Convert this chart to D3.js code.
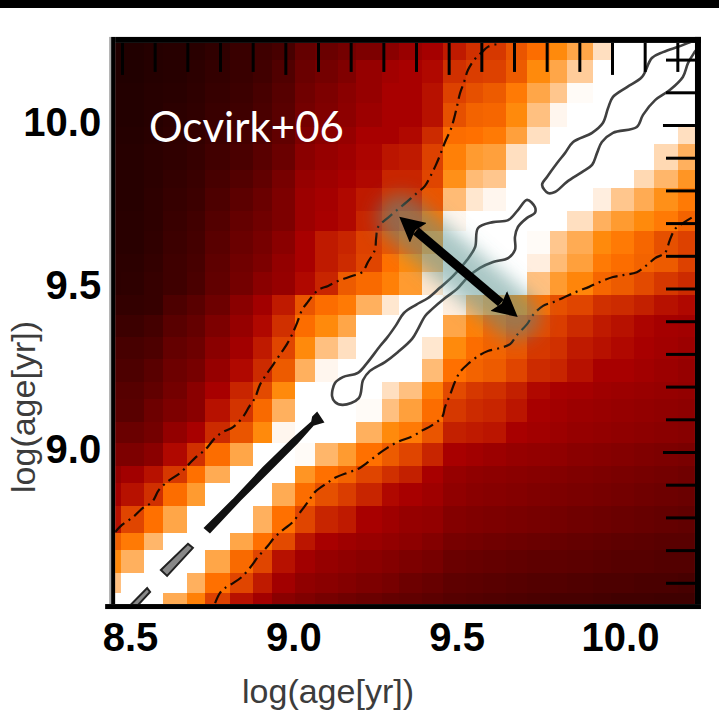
<!DOCTYPE html>
<html>
<head>
  <meta charset="utf-8">
  <title>Ocvirk+06</title>
  <script src="https://d3js.org/d3.v7.min.js"></script>
  <style>
    body { margin: 0; background: #fff; }
    svg { display: block; }
    .tick-lab text { font-family: "Liberation Sans", sans-serif; font-weight: bold; font-size: 40px; fill: #000; }
    .axis-title { font-family: "Liberation Sans", sans-serif; font-size: 34px; fill: #3c3c3c; }
  </style>
</head>
<body>
  <div id="chart"></div>
  <script>
    // bin edges, log(age[yr])
    var xEdges = [8.479,8.497,8.567,8.626,8.699,8.754,8.831,8.901,8.959,9.030,9.091,9.161,9.216,9.296,9.348,9.418,9.483,9.553,9.605,9.676,9.740,9.810,9.862,9.942,9.997,10.067,10.129,10.202,10.254];
    var yEdges = [10.251,10.199,10.128,10.067,9.994,9.942,9.862,9.807,9.737,9.676,9.606,9.550,9.480,9.419,9.352,9.284,9.214,9.162,9.092,9.028,8.957,8.905,8.835,8.752,8.700,8.630,8.569,8.535];

    // heat level per cell (0-100), top row first
    var levels = [
      [3,3,5,6,7,10,13,15,18,28,30,33,36,40,45,49,56,60,62,68,74,80,85,95,100,100,100,100],
      [3,3,5,6,8,11,13,16,21,30,33,37,44,48,50,52,60,63,64,69,80,85,92,100,100,100,100,100],
      [4,4,6,7,9,12,14,18,23,32,36,40,44,50,50,54,64,67,69,77,85,91,99,100,100,100,100,100],
      [4,4,6,8,10,13,15,19,24,33,37,41,46,50,50,54,67,71,72,80,90,98,100,100,100,100,100,100],
      [5,5,7,9,11,14,17,21,27,36,40,44,50,50,52,59,74,75,77,84,95,100,100,100,100,100,100,95],
      [6,6,8,10,12,16,19,24,30,40,44,47,51,55,56,64,78,83,84,95,100,100,100,100,100,100,94,87],
      [6,6,8,11,13,18,22,27,34,44,47,50,52,58,58,65,81,89,91,100,100,100,100,100,100,94,88,82],
      [6,6,9,12,14,20,25,30,36,46,49,52,56,60,60,68,89,96,98,100,100,100,100,97,91,86,81,77],
      [7,7,9,13,16,22,28,32,36,46,50,52,58,62,65,76,98,100,100,100,100,100,95,87,83,80,77,71],
      [7,7,10,14,17,24,30,34,40,50,56,58,64,68,72,83,100,100,100,100,99,91,86,80,77,72,67,64],
      [8,8,11,15,18,26,32,36,43,50,56,59,65,75,80,88,100,100,100,100,97,89,84,77,74,71,69,64],
      [8,9,12,15,19,27,33,40,44,52,58,69,73,78,83,96,100,100,100,100,90,83,79,72,69,66,62,59],
      [11,11,12,20,24,31,40,48,56,68,74,77,87,96,100,100,97,88,85,80,74,67,65,60,59,57,54,52],
      [14,14,17,24,28,36,44,52,60,74,80,85,100,100,100,100,85,78,72,68,66,63,59,56,54,51,49,48],
      [18,18,20,28,31,40,48,56,65,80,90,95,100,100,100,96,80,74,71,68,62,60,56,54,52,50,48,46],
      [20,20,24,31,34,44,52,59,69,87,98,100,100,100,100,89,75,71,69,65,59,58,54,50,50,48,46,44],
      [23,23,27,33,40,50,58,66,80,100,100,100,100,95,90,78,66,62,60,57,52,50,49,47,46,45,44,43],
      [24,24,31,36,40,54,61,73,87,100,100,100,99,90,84,74,62,59,58,55,50,48,46,45,44,43,42,41],
      [30,30,33,43,50,59,68,80,98,100,100,100,87,80,77,68,57,56,55,50,48,46,44,43,42,41,40,39],
      [36,36,40,52,60,74,85,100,100,99,88,83,75,69,65,58,50,48,46,44,43,42,40,39,38,37,36,35],
      [43,48,54,62,75,86,100,100,100,82,75,71,65,60,57,50,44,42,41,40,39,38,37,36,35,34,33,32],
      [48,54,60,74,83,100,100,100,86,74,67,63,58,52,50,47,42,40,39,38,37,36,35,34,33,32,31,30],
      [54,65,75,85,100,100,100,87,75,65,58,56,50,47,44,43,38,37,36,35,34,33,32,31,30,29,28,27],
      [70,77,88,100,100,100,85,75,66,55,50,47,45,43,41,38,34,33,32,31,30,29,28,27,26,25,24,24],
      [80,87,100,100,100,85,73,65,54,48,44,42,40,38,36,34,30,29,28,27,26,26,25,24,23,23,22,22],
      [90,100,100,100,87,75,65,56,48,42,40,38,36,34,31,29,26,25,24,23,22,22,21,20,20,19,19,18],
      [100,100,100,86,78,64,54,48,40,37,34,32,30,28,27,25,23,22,21,20,19,18,18,17,16,16,15,15]
    ];

    var colorStops = [0,10,20,30,40,50,55,60,65,70,75,80,85,90,95,98,100];
    var colorVals = ["#1a0000","#300000","#4d0000","#6a0000","#8a0000","#a80000","#bb1500","#d03000","#e04500","#f06000","#ff7000","#ff8a0c","#ffa648","#ffc080","#ffdfc0","#fff6ee","#ffffff"];

    var xTicks = d3.range(8.5, 10.25, 0.1);
    var yTicks = d3.range(8.6, 10.25, 0.1);
    var xLabels = [8.5, 9.0, 9.5, 10.0];
    var yLabels = [9.0, 9.5, 10.0];

    // outer dash-dot contours
    var upperContour = [[8.479,8.755],[8.5,8.777],[8.534,8.801],[8.564,8.829],[8.592,8.847],[8.613,8.884],[8.641,8.911],[8.678,8.936],[8.705,8.963],[8.727,8.985],[8.754,9.006],[8.785,9.043],[8.809,9.061],[8.840,9.076],[8.870,9.107],[8.889,9.138],[8.907,9.165],[8.922,9.205],[8.941,9.236],[8.962,9.266],[8.987,9.303],[9.005,9.330],[9.020,9.358],[9.036,9.395],[9.051,9.434],[9.069,9.459],[9.100,9.495],[9.131,9.508],[9.161,9.523],[9.204,9.538],[9.235,9.550],[9.253,9.581],[9.274,9.618],[9.278,9.654],[9.284,9.688],[9.314,9.716],[9.342,9.740],[9.372,9.765],[9.403,9.792],[9.427,9.813],[9.443,9.841],[9.461,9.878],[9.476,9.914],[9.489,9.948],[9.507,9.988],[9.516,10.018],[9.525,10.055],[9.535,10.098],[9.547,10.131],[9.559,10.168],[9.578,10.199],[9.602,10.223],[9.620,10.239],[9.651,10.248]];
    var lowerContour = [[8.785,8.538],[8.800,8.569],[8.815,8.584],[8.840,8.599],[8.867,8.618],[8.898,8.654],[8.916,8.679],[8.944,8.710],[8.968,8.740],[8.993,8.762],[9.023,8.786],[9.051,8.823],[9.069,8.847],[9.091,8.878],[9.128,8.905],[9.152,8.921],[9.189,8.936],[9.222,8.948],[9.253,8.969],[9.281,8.991],[9.311,9.012],[9.345,9.031],[9.391,9.049],[9.421,9.067],[9.446,9.080],[9.480,9.107],[9.489,9.138],[9.504,9.174],[9.519,9.214],[9.535,9.245],[9.559,9.269],[9.596,9.297],[9.620,9.309],[9.657,9.318],[9.688,9.330],[9.709,9.358],[9.740,9.391],[9.758,9.419],[9.789,9.447],[9.822,9.459],[9.862,9.477],[9.896,9.492],[9.930,9.505],[9.963,9.520],[10.003,9.535],[10.034,9.541],[10.076,9.550],[10.107,9.572],[10.132,9.593],[10.162,9.609],[10.177,9.648],[10.193,9.682],[10.217,9.700],[10.248,9.719]];

    // closed contours along the white band
    var loopMid = [[9.740,9.771],[9.764,9.749],[9.764,9.731],[9.740,9.716],[9.712,9.688],[9.703,9.658],[9.703,9.618],[9.682,9.593],[9.636,9.581],[9.596,9.563],[9.559,9.535],[9.525,9.498],[9.489,9.471],[9.449,9.437],[9.428,9.416],[9.406,9.376],[9.388,9.346],[9.345,9.306],[9.305,9.275],[9.259,9.248],[9.238,9.220],[9.225,9.165],[9.176,9.144],[9.152,9.153],[9.143,9.171],[9.152,9.211],[9.176,9.229],[9.222,9.242],[9.250,9.272],[9.290,9.324],[9.311,9.349],[9.339,9.388],[9.363,9.425],[9.400,9.450],[9.437,9.471],[9.473,9.502],[9.513,9.538],[9.556,9.587],[9.581,9.627],[9.590,9.685],[9.636,9.703],[9.682,9.709],[9.712,9.740]];
    var loopTop = [[9.786,9.817],[9.804,9.792],[9.825,9.795],[9.862,9.826],[9.908,9.856],[9.939,9.878],[9.954,9.914],[9.969,9.948],[10.003,9.976],[10.076,9.994],[10.095,10.031],[10.132,10.076],[10.177,10.107],[10.217,10.147],[10.233,10.190],[10.251,10.220],[10.285,10.266],[10.202,10.239],[10.156,10.223],[10.122,10.205],[10.092,10.147],[10.046,10.116],[10.003,10.086],[9.988,10.052],[9.972,10.006],[9.939,9.976],[9.881,9.948],[9.856,9.914],[9.832,9.884],[9.801,9.841]];
    var sliverLong = [[9.097,9.119],[9.115,9.092],[9.085,9.083],[9.036,9.028],[8.953,8.945],[8.861,8.853],[8.769,8.755],[8.754,8.768],[8.840,8.853],[8.932,8.951],[9.020,9.037],[9.082,9.092],[9.085,9.107]];
    var sliverMid = [[8.702,8.719],[8.717,8.707],[8.638,8.621],[8.619,8.639]];
    var sliverLow = [[8.577,8.584],[8.586,8.572],[8.546,8.529],[8.523,8.529]];

    var glowEnds = [[9.354,9.716],[9.706,9.416]];
    var shaftEnds = [[9.400,9.676],[9.660,9.456]];

    (function () {
    var width = 719, height = 714;

    // 8.5 -> 122px, 10.0 -> 612px; 10.0 -> 125px, 9.0 -> 452px
    var x = d3.scaleLinear().domain([8.5, 10]).range([122, 612]);
    var y = d3.scaleLinear().domain([9, 10]).range([452, 125]);
    var heat = d3.scaleLinear().domain(colorStops).range(colorVals);

    var left = x(xEdges[0]), right = x(xEdges[xEdges.length - 1]);
    var plotTop = y(yEdges[0]), bottom = y(yEdges[yEdges.length - 1]);

    var svg = d3.select("#chart").append("svg").attr("width", width).attr("height", height);
    var defs = svg.append("defs");
    defs.append("clipPath").attr("id", "plot").append("rect")
      .attr("x", left).attr("y", plotTop).attr("width", right - left).attr("height", bottom - plotTop);
    defs.append("filter").attr("id", "soft")
      .attr("filterUnits", "userSpaceOnUse").attr("x", 300).attr("y", 120).attr("width", 320).attr("height", 300)
      .append("feGaussianBlur").attr("stdDeviation", 9);
    defs.append("marker").attr("id", "head").attr("markerUnits", "userSpaceOnUse")
      .attr("viewBox", "0 -13 25 26").attr("refX", 3).attr("refY", 0)
      .attr("markerWidth", 25).attr("markerHeight", 26).attr("orient", "auto-start-reverse")
      .append("path").attr("d", "M0,-13L25,0L0,13L4,0Z").attr("fill", "#000");

    // black strip at the top of the slide
    svg.append("rect").attr("width", width).attr("height", 8).attr("fill", "#000");

    var plot = svg.append("g").attr("clip-path", "url(#plot)");

    levels.forEach(function (row, r) {
      plot.append("g").selectAll("rect").data(row).enter().append("rect")
        .attr("x", function (d, c) { return x(xEdges[c]); })
        .attr("width", function (d, c) { return x(xEdges[c + 1]) - x(xEdges[c]); })
        .attr("y", y(yEdges[r]))
        .attr("height", y(yEdges[r + 1]) - y(yEdges[r]))
        .attr("fill", function (d) { return heat(d); })
        .attr("shape-rendering", "crispEdges");
    });

    function pathOf(curve) {
      return d3.line().x(function (d) { return x(d[0]); }).y(function (d) { return y(d[1]); }).curve(curve);
    }
    var smooth = pathOf(d3.curveCatmullRom);
    var loop = pathOf(d3.curveCatmullRomClosed);
    var poly = pathOf(d3.curveLinearClosed);
    var straight = pathOf(d3.curveLinear);

    [upperContour, lowerContour].forEach(function (c) {
      plot.append("path").attr("d", smooth(c)).attr("fill", "none")
        .attr("stroke", "#1a0a00").attr("stroke-width", 2.2)
        .attr("stroke-dasharray", "13 5 2 5");
    });

    [loopMid, loopTop].forEach(function (c) {
      plot.append("path").attr("d", loop(c)).attr("fill", "none")
        .attr("stroke", "#404040").attr("stroke-width", 2.6);
    });

    plot.append("path").attr("d", poly(sliverLong)).attr("fill", "#111")
      .attr("stroke", "#111").attr("stroke-width", 2);
    [sliverMid, sliverLow].forEach(function (c) {
      plot.append("path").attr("d", poly(c)).attr("fill", "#888")
        .attr("stroke", "#222").attr("stroke-width", 2);
    });

    // glow behind the arrow
    svg.append("path").attr("d", straight(glowEnds)).attr("fill", "none")
      .attr("stroke", "#5a9490").attr("stroke-opacity", 0.52)
      .attr("stroke-width", 48).attr("stroke-linecap", "round")
      .attr("filter", "url(#soft)");

    svg.append("path").attr("d", straight(shaftEnds)).attr("fill", "none")
      .attr("stroke", "#000").attr("stroke-width", 9)
      .attr("marker-start", "url(#head)").attr("marker-end", "url(#head)");

    // inner ticks, no labels
    var topAxis = svg.append("g").attr("transform", "translate(0," + plotTop + ")")
      .call(d3.axisBottom(x).tickValues(xTicks).tickSize(29).tickFormat(""));
    topAxis.select(".domain").remove();
    topAxis.selectAll("line").attr("stroke", "#000").attr("stroke-width", 3)
      .attr("y2", function (d) { return xLabels.some(function (v) { return Math.abs(v - d) < 1e-6; }) ? 32 : 29; });

    var rightAxis = svg.append("g").attr("transform", "translate(" + right + ",0)")
      .call(d3.axisLeft(y).tickValues(yTicks).tickSize(29).tickFormat(""));
    rightAxis.select(".domain").remove();
    rightAxis.selectAll("line").attr("stroke", "#000").attr("stroke-width", 3)
      .attr("x2", function (d) { return (Math.abs(d - 9) < 1e-6 || Math.abs(d - 10) < 1e-6) ? -32 : -29; });

    // frame
    svg.append("rect").attr("x", left - 6).attr("y", plotTop - 6).attr("width", 2).attr("height", bottom - plotTop + 6).attr("fill", "#aaa");
    svg.append("rect").attr("x", left - 4).attr("y", plotTop - 6).attr("width", 4).attr("height", bottom - plotTop + 6).attr("fill", "#000");
    svg.append("rect").attr("x", left).attr("y", plotTop - 6).attr("width", right - left + 6).attr("height", 6).attr("fill", "#000");
    svg.append("rect").attr("x", right).attr("y", plotTop - 6).attr("width", 6).attr("height", bottom - plotTop + 6).attr("fill", "#000");
    svg.append("rect").attr("x", left - 10).attr("y", bottom).attr("width", right - left + 16).attr("height", 5).attr("fill", "#000");

    // tick labels
    var xLab = svg.append("g").attr("class", "tick-lab").attr("transform", "translate(8," + bottom + ")")
      .call(d3.axisBottom(x).tickValues(xLabels).tickSize(0).tickFormat(d3.format(".1f")));
    xLab.select(".domain").remove();
    xLab.selectAll("text").attr("dy", 0).attr("y", 47);

    var yLab = svg.append("g").attr("class", "tick-lab").attr("transform", "translate(" + left + ",0)")
      .call(d3.axisLeft(y).tickValues(yLabels).tickSize(0).tickFormat(d3.format(".1f")));
    yLab.select(".domain").remove();
    yLab.selectAll("text").attr("x", -14).attr("dy", 10);

    svg.append("text").attr("class", "axis-title").attr("x", 328).attr("y", 703)
      .attr("text-anchor", "middle").text("log(age[yr])");
    svg.append("text").attr("class", "axis-title").attr("text-anchor", "middle")
      .attr("transform", "translate(35,407) rotate(-90)").text("log(age[yr])");

    svg.append("text").attr("x", 149).attr("y", 142)
      .attr("font-family", "Lato, 'Open Sans', sans-serif").attr("font-size", 42)
      .attr("fill", "#fff").text("Ocvirk+06");
    })();
  </script>
</body>
</html>
